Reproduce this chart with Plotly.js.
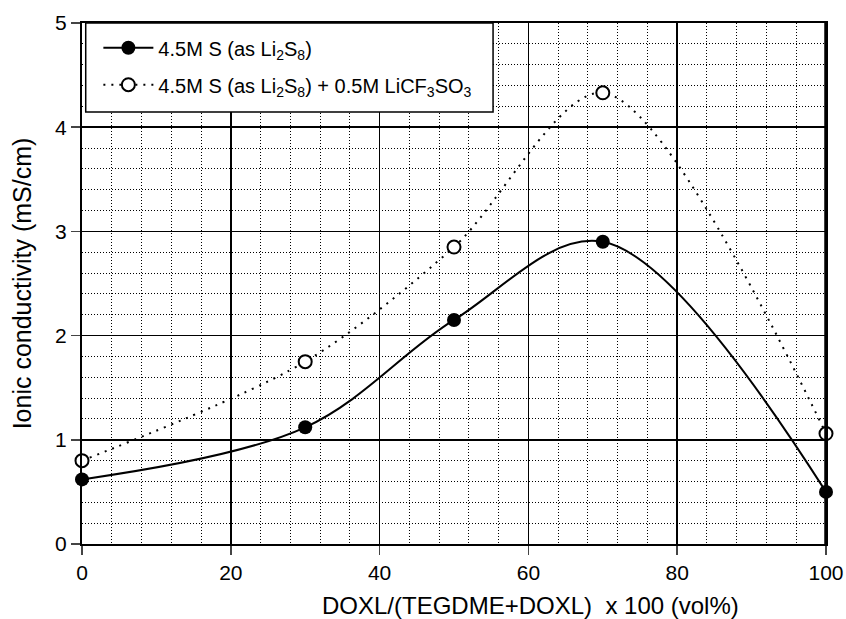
<!DOCTYPE html>
<html><head><meta charset="utf-8">
<script src="https://cdn.plot.ly/plotly-3.0.1.min.js"></script>
<style>html,body{margin:0;padding:0;background:#fff}</style>
</head><body>
<div id="chart" style="width:846px;height:619px"></div>
<script>
const doxl = [0, 30, 50, 70, 100];
const condLi2S8 = [0.62, 1.12, 2.15, 2.9, 0.5];
const condWithSalt = [0.8, 1.75, 2.85, 4.33, 1.06];
const seriesNames = ['4.5M S (as Li<sub>2</sub>S<sub>8</sub>)', '4.5M S (as Li<sub>2</sub>S<sub>8</sub>) + 0.5M LiCF<sub>3</sub>SO<sub>3</sub>'];
const xTitle = 'DOXL/(TEGDME+DOXL)  x 100 (vol%)';
const yTitle = 'Ionic conductivity (mS/cm)';

const traces = [
  {x: doxl, y: condLi2S8, name: seriesNames[0], legendgroup: 'a', mode: 'lines+markers', cliponaxis: false,
   line: {color: '#000', width: 2, shape: 'spline', smoothing: 1},
   marker: {symbol: 'circle', size: 14, color: '#000'}},
  {x: doxl, y: condWithSalt, name: seriesNames[1], legendgroup: 'b', mode: 'lines+markers', cliponaxis: false,
   line: {color: '#000', width: 2, shape: 'spline', smoothing: 0.85, dash: '2px,6px'},
   marker: {symbol: 'circle', size: 13, color: '#fff', line: {color: '#000', width: 2}}}
];

const layout = {
  width: 846, height: 619,
  margin: {l: 82, r: 20, t: 23, b: 75},
  paper_bgcolor: '#fff', plot_bgcolor: '#fff',
  font: {family: 'Liberation Sans, Arial, sans-serif', color: '#000', size: 20},
  showlegend: true,
  legend: {x: 0.022, y: 0.99, xanchor: 'left', yanchor: 'top', bgcolor: 'rgba(0,0,0,0)',
           borderwidth: 0, font: {size: 20}, itemwidth: 50, tracegroupgap: 8},
  shapes: [
    {type: 'rect', xref: 'paper', yref: 'paper', x0: 0.005, x1: 0.5525, y0: 0.829, y1: 1,
     fillcolor: '#fff', line: {color: '#000', width: 1.5}, layer: 'above'},
    {type: 'line', xref: 'paper', yref: 'paper', x0: 1, x1: 1, y0: 0, y1: 1,
     line: {color: '#000', width: 3.5}, layer: 'above'}
  ],
  annotations: [
    {text: xTitle, xref: 'paper', yref: 'paper', x: 0.603, y: -0.119, xanchor: 'center', yanchor: 'middle',
     showarrow: false, font: {size: 24}}
  ],
  xaxis: {range: [0, 100], dtick: 20, tick0: 0, ticks: 'outside', ticklen: 9, tickwidth: 1.5,
          showline: true, linecolor: '#000', linewidth: 2, mirror: true,
          showgrid: true, gridcolor: '#000', gridwidth: 1.5, zeroline: false,
          minor: {dtick: 4, showgrid: true, gridcolor: '#000', griddash: '1px,2px', gridwidth: 1},
          tickfont: {size: 21}},
  yaxis: {range: [0, 5], dtick: 1, tick0: 0, ticks: 'outside', ticklen: 9, tickwidth: 1.5,
          showline: true, linecolor: '#000', linewidth: 2, mirror: true,
          showgrid: true, gridcolor: '#000', gridwidth: 1.5, zeroline: false,
          minor: {dtick: 0.2, showgrid: true, gridcolor: '#000', griddash: '1px,2px', gridwidth: 1},
          title: {text: yTitle, font: {size: 25}, standoff: 16},
          tickfont: {size: 21}}
};

Plotly.newPlot('chart', traces, layout, {displayModeBar: false, staticPlot: true});
</script>
</body></html>
